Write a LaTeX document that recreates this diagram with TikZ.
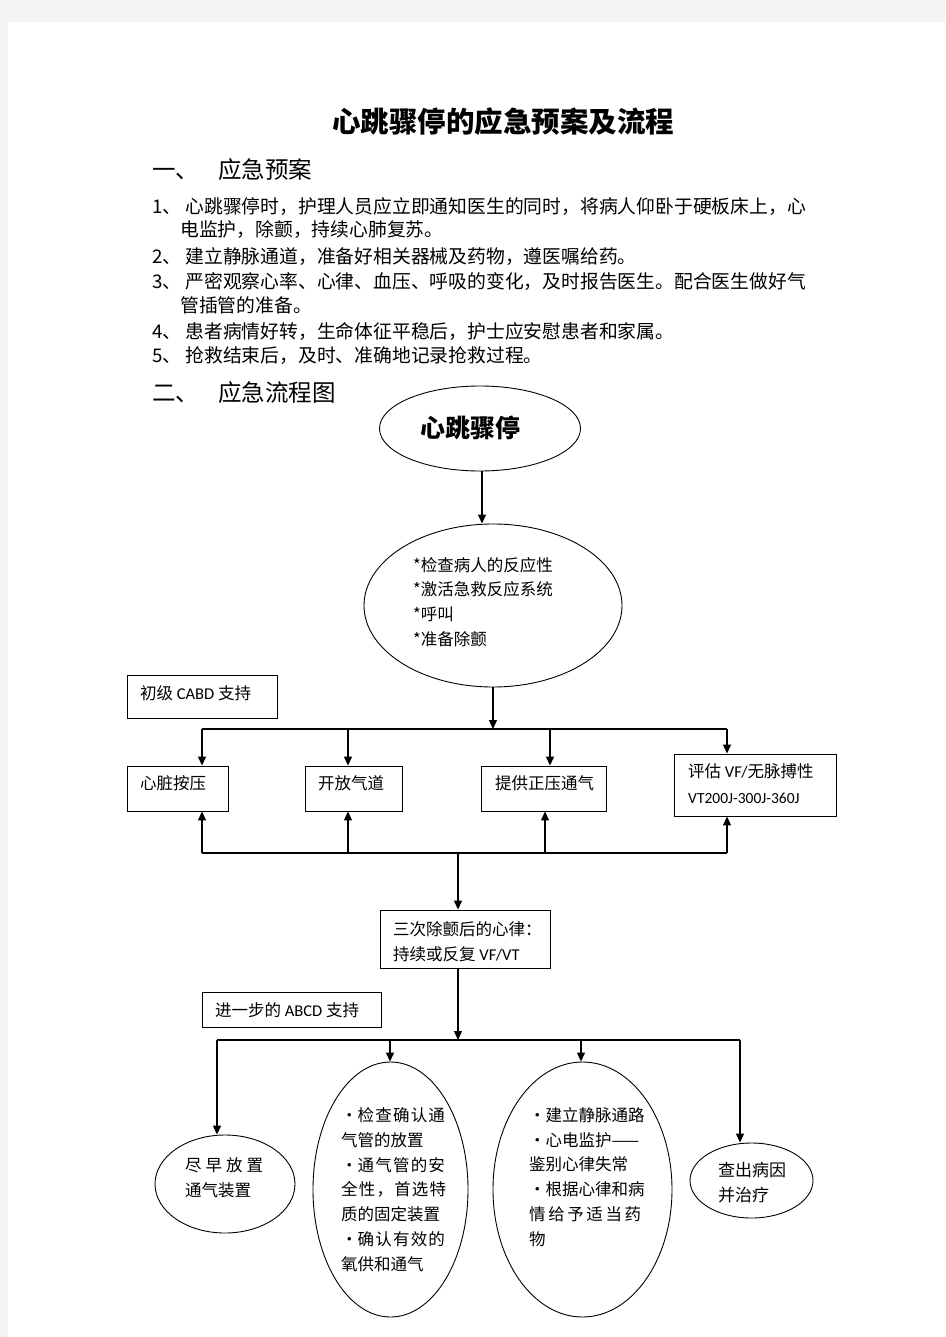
\documentclass[tikz,border=0pt]{standalone}
\usepackage{fontspec}
\newfontfamily\cjk{Noto Sans CJK SC}
\newfontfamily\lat{Carlito}
\usetikzlibrary{arrows.meta,shapes.geometric,shadows}
\definecolor{pagegray}{RGB}{243,243,243}
\newcommand\jspa{\hspace{1.2pt}}
\newcommand\jspb{\hspace{2.6pt}}
\newcommand\jspc{\hspace{4pt}}
\tikzset{
  arr/.style={-{Triangle[length=9pt,width=8pt]}, line width=1.2pt},
  ln/.style={line width=1.2pt},
  box/.style={draw, line width=0.9pt, fill=white, inner sep=0pt,
    drop shadow={shadow xshift=1.2pt, shadow yshift=-1.2pt, opacity=1, fill=black}},
  oval/.style={draw, ellipse, line width=0.9pt, inner sep=0pt},
  body/.style={anchor=west, inner sep=0pt, font=\cjk\fontsize{18.8}{24}\selectfont},
  head/.style={anchor=west, inner sep=0pt, font=\cjk\fontsize{23.5}{28}\selectfont},
  fc/.style={anchor=west, inner sep=0pt, align=left, font=\cjk\fontsize{16.5}{24.8}\selectfont},
}
\begin{document}
\begin{tikzpicture}[x=1pt,y=-1pt]
\useasboundingbox (0,0) rectangle (945,1337);
\fill[pagegray] (0,0) rectangle (945,1337);
\fill[white] (8,22) rectangle (945,1337);

% header text
\node[inner sep=0pt, font=\cjk\bfseries\fontsize{28.5}{30}\selectfont] (title) at (503,122) {心跳骤停的应急预案及流程};
\node[head] (h1) at (152,170) {一、\hspace{19pt}应急预案};
\node[body] (l1) at (152,207) {1、\hspace{4pt}心跳骤停时，护理人员应立即通知医生的同时，将病人仰卧于硬板床上，心};
\node[body] (l1b) at (180,230) {电监护，除颤，持续心肺复苏。};
\node[body] (l2) at (152,257) {2、\hspace{4pt}建立静脉通道，准备好相关器械及药物，遵医嘱给药。};
\node[body] (l3) at (152,282) {3、\hspace{4pt}严密观察心率、心律、血压、呼吸的变化，及时报告医生。配合医生做好气};
\node[body] (l3b) at (180,305) {管插管的准备。};
\node[body] (l4) at (152,331) {4、\hspace{4pt}患者病情好转，生命体征平稳后，护士应安慰患者和家属。};
\node[body] (l5) at (152,356) {5、\hspace{4pt}抢救结束后，及时、准确地记录抢救过程。};
\node[head] (h2) at (152,393) {二、\hspace{19pt}应急流程图};

% flowchart shapes
\node[oval, minimum width=201pt, minimum height=85pt] (e1) at (480,428.5) {};
\node[inner sep=0pt, font=\cjk\bfseries\fontsize{25}{28}\selectfont] (e1t) at (470,428) {心跳骤停};
\node[oval, minimum width=258pt, minimum height=163pt] (e2) at (493,605.5) {};
\node[fc] (e2t) at (413,602) {*检查病人的反应性\\*激活急救反应系统\\*呼叫\\*准备除颤};

\node[box, minimum width=150pt, minimum height=43pt] (cabd) at (202,696.5) {};
\node[fc] (cabdt) at (140,693) {初级 {\lat CABD} 支持};

\node[box, minimum width=101pt, minimum height=45pt] (heart) at (177.5,788.5) {};
\node[fc] (heartt) at (140,783) {心脏按压};
\node[box, minimum width=97pt, minimum height=45pt] (airway) at (353.5,788.5) {};
\node[fc] (airwayt) at (318,783) {开放气道};
\node[box, minimum width=125pt, minimum height=45pt] (vent) at (543.5,788.5) {};
\node[fc] (ventt) at (495,783) {提供正压通气};
\node[box, minimum width=162pt, minimum height=62pt] (eval) at (755,785) {};
\node[fc] (evalt) at (688,771) {评估 {\lat VF/}无脉搏性};
\node[fc, font=\lat\fontsize{15.5}{18}\selectfont] (evalt2) at (688,798) {VT200J-300J-360J};

\node[box, minimum width=170pt, minimum height=58pt] (box3) at (465,939) {};
\node[fc] (box3t) at (393,941.5) {三次除颤后的心律：\\持续或反复 {\lat VF/VT}};

\node[box, minimum width=179pt, minimum height=35pt] (abcd) at (291.5,1009.5) {};
\node[fc] (abcdt) at (215,1010) {进一步的 {\lat ABCD} 支持};

\node[oval, minimum width=140pt, minimum height=98pt] (o1) at (225,1184) {};
\node[fc] (o1t) at (185,1177.5) {尽\jspc 早\jspc 放\jspc 置\\通气装置};
\node[oval, minimum width=155pt, minimum height=255pt] (o2) at (390.5,1189.5) {};
\node[fc] (o2t) at (341,1189.5) {·检\jspa 查\jspa 确\jspa 认\jspa 通\\气管的放置\\·通\jspa 气\jspa 管\jspa 的\jspa 安\\全\jspa 性\jspa ，\jspa 首\jspa 选\jspa 特\\质的固定装置\\·确\jspa 认\jspa 有\jspa 效\jspa 的\\氧供和通气};
\node[oval, minimum width=179pt, minimum height=255pt] (o3) at (582.5,1189.5) {};
\node[fc] (o3t) at (529,1177) {·建立静脉通路\\·心电监护——\\鉴别心律失常\\·根据心律和病\\情\jspb 给\jspb 予\jspb 适\jspb 当\jspb 药\\物};
\node[oval, minimum width=123pt, minimum height=75pt] (o4) at (751.5,1180.5) {};
\node[fc, font=\cjk\fontsize{17}{25}\selectfont] (o4t) at (718,1182.5) {查出病因\\并治疗};

% connectors
\coordinate (k1) at (482,450);
\draw[arr] (k1 |- e1.south) -- (k1 |- e2.north);

\coordinate (j1) at (493,729);
\coordinate (b1L) at (202,729);
\coordinate (b1R) at (727,729);
\coordinate (t2) at (348,729);
\coordinate (t3) at (550,729);
\draw[arr] (e2.south) -- (j1);
\draw[ln] (b1L) -- (b1R);
\draw[arr] (b1L) -- (b1L |- heart.north);
\draw[arr] (t2) -- (t2 |- airway.north);
\draw[arr] (t3) -- (t3 |- vent.north);
\draw[arr] (b1R) -- (b1R |- eval.north);

\coordinate (b2L) at (202,853);
\coordinate (b2R) at (727,853);
\coordinate (u2) at (348,853);
\coordinate (u3) at (545,853);
\coordinate (j2) at (458,853);
\draw[ln] (b2L) -- (b2R);
\draw[arr] (b2L) -- (b2L |- heart.south);
\draw[arr] (u2) -- (u2 |- airway.south);
\draw[arr] (u3) -- (u3 |- vent.south);
\draw[arr] (b2R) -- (b2R |- eval.south);
\draw[arr] (j2) -- (j2 |- box3.north);

\coordinate (j3) at (458,1040);
\draw[arr] (j3 |- box3.south) -- (j3);
\coordinate (b3L) at (217,1040);
\coordinate (b3R) at (740,1040);
\coordinate (v2) at (390,1040);
\coordinate (v3) at (581,1040);
\draw[ln] (b3L) -- (b3R);
\draw[arr] (b3L) -- (b3L |- o1.north);
\draw[arr] (v2) -- (v2 |- o2.north);
\draw[arr] (v3) -- (v3 |- o3.north);
\draw[arr] (b3R) -- (b3R |- o4.north);
\end{tikzpicture}
\end{document}
